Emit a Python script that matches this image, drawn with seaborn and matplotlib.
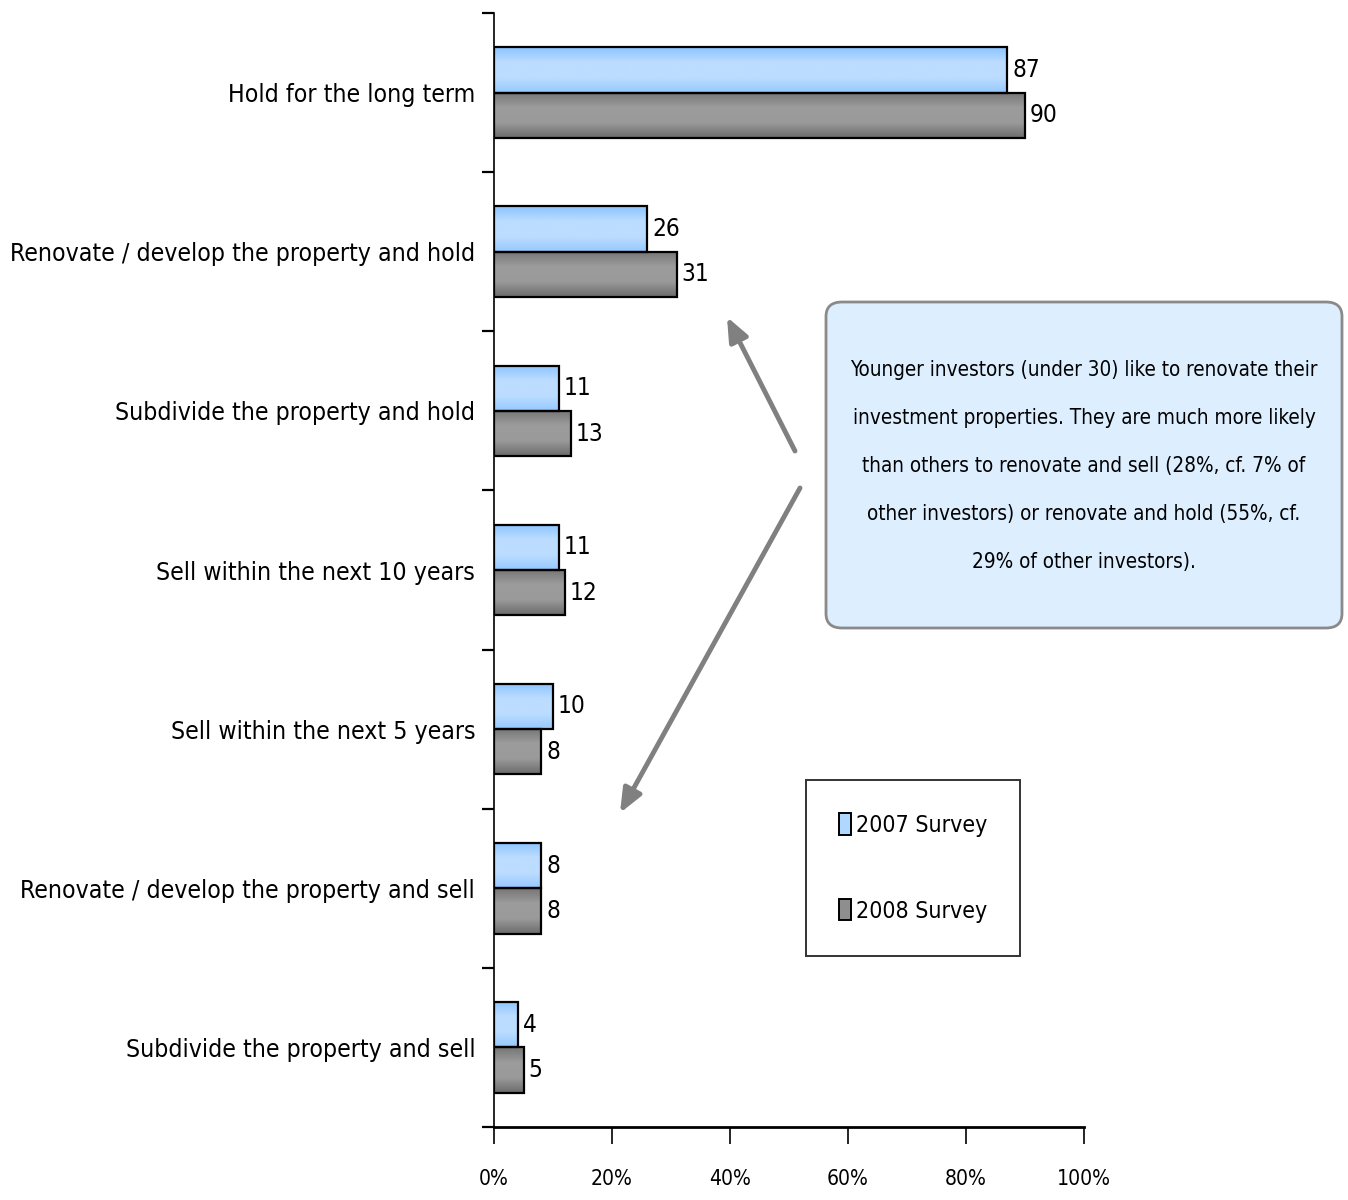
import numpy as np
import pandas as pd
import matplotlib
matplotlib.use("Agg")
import matplotlib.pyplot as plt
import seaborn as sns
from matplotlib import font_manager as fm
from matplotlib.colors import LinearSegmentedColormap
from matplotlib.patches import FancyBboxPatch, Patch
from matplotlib.ticker import FixedLocator

categories = [
    "Hold for the long term",
    "Renovate / develop the property and hold",
    "Subdivide the property and hold",
    "Sell within the next 10 years",
    "Sell within the next 5 years",
    "Renovate / develop the property and sell",
    "Subdivide the property and sell",
]
survey_2007 = [87, 26, 11, 11, 10, 8, 4]
survey_2008 = [90, 31, 13, 12, 8, 8, 5]
series_names = ["2007 Survey", "2008 Survey"]
x_ticks = [0, 20, 40, 60, 80, 100]

note_lines = [
    "Younger investors (under 30) like to renovate their",
    "investment properties. They are much more likely",
    "than others to renovate and sell (28%, cf. 7% of",
    "other investors) or renovate and hold (55%, cf.",
    "29% of other investors).",
]

df = pd.DataFrame({
    "category": categories * 2,
    "value": survey_2007 + survey_2008,
    "survey": [series_names[0]] * len(categories) + [series_names[1]] * len(categories),
})

sns.set_theme(style="white")

# prefer a narrow sans face when one is installed
family, stretch = "Liberation Sans", "normal"
for f in fm.fontManager.ttflist:
    narrow = (str(f.stretch) in ("condensed", "semi-condensed", "extra-condensed")
              or "Condensed" in f.name or "Narrow" in f.name)
    if narrow and f.style == "normal" and f.weight in (400, "normal", "regular", "Regular"):
        family, stretch = f.name, f.stretch
        break
plt.rcParams["font.family"] = [family, "DejaVu Sans"]
plt.rcParams["font.stretch"] = stretch
plt.rcParams["text.color"] = "black"
plt.rcParams["xtick.color"] = "black"
plt.rcParams["ytick.color"] = "black"

DPI = 100
fig = plt.figure(figsize=(13.48, 12), dpi=DPI)
renderer = fig.canvas.get_renderer()


def fit_size(s, width_px):
    """Font size (pt) giving the string the requested pixel width."""
    t = fig.text(0, 0, s, fontsize=20)
    w = t.get_window_extent(renderer).width
    t.remove()
    return 20 * width_px / w


def line_pitch(size, spacing):
    """Baseline-to-baseline distance (px) of multi-line text."""
    t1 = fig.text(0, 0, "Ag", fontsize=size, linespacing=spacing)
    t2 = fig.text(0, 0, "Ag\nAg", fontsize=size, linespacing=spacing)
    d = t2.get_window_extent(renderer).height - t1.get_window_extent(renderer).height
    t1.remove()
    t2.remove()
    return d


cat_size = fit_size("Renovate / develop the property and hold", 465)
note_size = fit_size(note_lines[0], 468)
leg_size = fit_size("2007 Survey", 131)
tick_size = fit_size("100%", 54)
val_size = cat_size * 0.98

note_spacing = 1.2 * 53 / line_pitch(note_size, 1.2)

ax = fig.add_axes([494 / 1348, 1 - 1127 / 1200, 590 / 1348, 1114 / 1200])

base_colors = ["#A6D2FF", "#8C8C8C"]
sns.barplot(data=df, y="category", x="value", hue="survey", orient="h",
            order=categories, hue_order=series_names, palette=base_colors,
            width=0.57, edgecolor="black", linewidth=1.6, ax=ax, legend=False)

# vertical shading inside each bar
grads = [
    LinearSegmentedColormap.from_list("b", ["#8CC4FF", "#BCDDFF", "#BCDDFF", "#96C9FF"]),
    LinearSegmentedColormap.from_list("g", ["#767676", "#9C9C9C", "#9A9A9A", "#6C6C6C"]),
]
grad = np.linspace(0, 1, 64).reshape(-1, 1)
for container, cmap in zip(ax.containers, grads):
    for patch in container:
        x0, y0 = patch.get_x(), patch.get_y()
        w, h = patch.get_width(), patch.get_height()
        im = ax.imshow(grad, cmap=cmap, aspect="auto", interpolation="bicubic",
                       extent=[x0, x0 + w, y0 + h, y0], zorder=patch.get_zorder() - 0.1)
        im.set_clip_path(patch)
        patch.set_facecolor("none")
    ax.bar_label(container, padding=3.5, fontsize=val_size, color="black")

ax.set_xlim(0, 100)
ax.set_ylim(len(categories) - 0.5, -0.5)
ax.set_xlabel("")
ax.set_ylabel("")

ax.xaxis.set_major_locator(FixedLocator(x_ticks))
ax.set_xticklabels([f"{t}%" for t in x_ticks], fontsize=tick_size)
ax.tick_params(axis="x", direction="out", length=12, width=1.2, pad=18, bottom=True)

ax.set_yticks(range(len(categories)))
ax.set_yticklabels(categories, fontsize=cat_size)
ax.tick_params(axis="y", length=0, pad=13.5)
# boundary ticks between categories
ax.yaxis.set_minor_locator(FixedLocator(np.arange(-0.5, len(categories), 1.0)))
ax.tick_params(axis="y", which="minor", direction="out", length=9, width=1.6, left=True)

for side in ["top", "right"]:
    ax.spines[side].set_visible(False)
ax.spines["left"].set_linewidth(1.2)
ax.spines["bottom"].set_linewidth(2.0)
ax.spines["left"].set_color("black")
ax.spines["bottom"].set_color("black")

# legend
leg_px = leg_size * DPI / 72
handles = [Patch(facecolor="#B0D7FF", edgecolor="black", linewidth=1.4),
           Patch(facecolor="#8E8E8E", edgecolor="black", linewidth=1.4)]
leg = ax.legend(handles, series_names, loc="center",
                bbox_to_anchor=(913 / 1348, 1 - 868 / 1200), bbox_transform=fig.transFigure,
                fontsize=leg_size, frameon=True, fancybox=False, edgecolor="black",
                handlelength=12 / leg_px, handleheight=24 / leg_px, handletextpad=5 / leg_px,
                labelspacing=(91 - 1.25 * leg_px) / leg_px,
                borderpad=33 / leg_px, borderaxespad=0)
leg.get_frame().set_linewidth(1.4)
for txt in leg.get_texts():
    txt.set_color("black")

# note box
box = FancyBboxPatch((826 / 1348, 1 - 628 / 1200), 516 / 1348, 326 / 1200,
                     boxstyle="round,pad=0,rounding_size=0.012",
                     transform=fig.transFigure, facecolor="#DDEEFF",
                     edgecolor="#8A8A8A", linewidth=2.0, zorder=5)
fig.patches.append(box)
fig.text(1084 / 1348, 1 - 466 / 1200, "\n".join(note_lines), ha="center", va="center",
         fontsize=note_size, linespacing=note_spacing, color="black", zorder=6)

# arrows pointing at the renovate categories
arrow_kw = dict(arrowstyle="-|>,head_length=1.2,head_width=0.5", color="#808080",
                lw=3.5, shrinkA=0, shrinkB=0)
fig_px = lambda x, y: (x / 1348, 1 - y / 1200)
ax.annotate("", xy=fig_px(727, 317), xytext=fig_px(795, 451),
            xycoords="figure fraction", textcoords="figure fraction",
            arrowprops=arrow_kw)
ax.annotate("", xy=fig_px(620, 813), xytext=fig_px(800, 488),
            xycoords="figure fraction", textcoords="figure fraction",
            arrowprops=arrow_kw)

fig.savefig("out.png", dpi=DPI)
